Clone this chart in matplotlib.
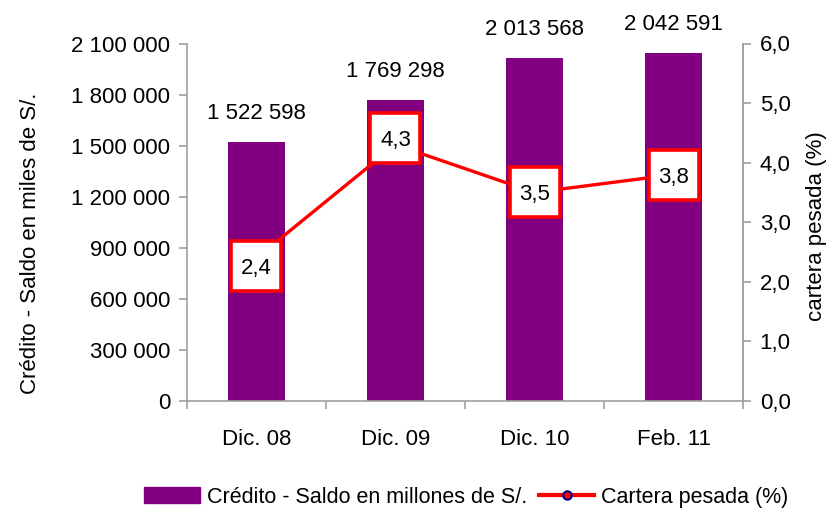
import matplotlib
matplotlib.use("Agg")
import matplotlib.pyplot as plt
from matplotlib.lines import Line2D
from matplotlib.patches import Patch
from matplotlib.transforms import offset_copy

categories = ["Dic. 08", "Dic. 09", "Dic. 10", "Feb. 11"]
credito = [1522598, 1769298, 2013568, 2042591]
cartera = [2.4, 4.3, 3.5, 3.8]
left_ticks = [0, 300000, 600000, 900000, 1200000, 1500000, 1800000, 2100000]
right_ticks = [0.0, 1.0, 2.0, 3.0, 4.0, 5.0, 6.0]
# vertical offset (points) of each percentage label box from its point
label_offsets = [-6, 5, 0, 0]

plt.rcParams['font.family'] = ['Liberation Sans', 'DejaVu Sans']
FS = 16
purple = "#800080"
gray = "#A0A0A0"

def fmt_thousands(v):
    return f"{v:,.0f}".replace(",", " ")

fig = plt.figure(figsize=(8.33, 5.14), dpi=100)
ax = fig.add_axes([187 / 833, 1 - 401 / 514, 556 / 833, 357.5 / 514])
x = list(range(len(categories)))
ax.bar(x, credito, width=0.417, color=purple, zorder=2)
ax.set_xlim(-0.5, len(categories) - 0.5)
ax.set_ylim(0, 2100000)
ax.set_yticks(left_ticks)
ax.set_yticklabels([fmt_thousands(v) for v in left_ticks], fontsize=FS)
ax.set_xticks(x)
ax.set_xticklabels(categories, fontsize=FS)
ax.tick_params(axis='x', length=0, pad=20)
ax.set_xticks([i - 0.5 for i in range(len(categories) + 1)], minor=True)
ax.tick_params(axis='x', which='minor', length=6, color=gray, width=1.2)
ax.tick_params(axis='y', length=6, color=gray, width=1.2, pad=6)
ax.spines['top'].set_visible(False)
for s in ['left', 'bottom', 'right']:
    ax.spines[s].set_color(gray)
    ax.spines[s].set_linewidth(1.2)
ax.set_ylabel("Crédito - Saldo en miles de S/.", fontsize=FS)
ax.yaxis.set_label_coords(-0.262, 0.44)

for xi, v in zip(x, credito):
    ax.annotate(fmt_thousands(v), (xi, v), xytext=(0, 13), textcoords='offset points',
                ha='center', va='bottom', fontsize=FS, annotation_clip=False)

ax2 = ax.twinx()
ax2.set_ylim(0, 6.0)
ax2.set_yticks(right_ticks)
ax2.set_yticklabels([f"{v:.1f}".replace(".", ",") for v in right_ticks], fontsize=FS)
ax2.tick_params(axis='y', length=6, color=gray, width=1.2, pad=6)
for s in ['top', 'left', 'bottom']:
    ax2.spines[s].set_visible(False)
ax2.spines['right'].set_color(gray)
ax2.spines['right'].set_linewidth(1.2)
ax2.plot(x, cartera, color='red', linewidth=2.4, zorder=3)
for xi, v, off in zip(x, cartera, label_offsets):
    tr = offset_copy(ax2.transData, fig=fig, x=0, y=off, units='points')
    ax2.plot([xi], [v], marker='s', markersize=36, markerfacecolor='white',
             markeredgecolor='red', markeredgewidth=2.6, linestyle='none',
             transform=tr, zorder=4, clip_on=False)
    ax2.text(xi, v, f"{v:.1f}".replace(".", ","), ha='center', va='center_baseline',
             fontsize=FS, zorder=5, transform=tr)
ax2.set_ylabel("cartera pesada (%)", fontsize=FS)
ax2.yaxis.set_label_coords(1.113, 0.49)

handles = [Patch(facecolor=purple, edgecolor=purple),
           Line2D([0], [0], color='red', linewidth=3, marker='o', markersize=6,
                  markerfacecolor='red', markeredgecolor='navy', markeredgewidth=1.5)]
fig.legend(handles, ["Crédito - Saldo en millones de S/.", "Cartera pesada (%)"],
           loc='center', bbox_to_anchor=(0.56, 0.033), ncol=2, frameon=False, fontsize=15.5,
           handlelength=2.56, handletextpad=0.33, columnspacing=0.56, borderpad=0.2)

fig.savefig("out.png", dpi=100)
